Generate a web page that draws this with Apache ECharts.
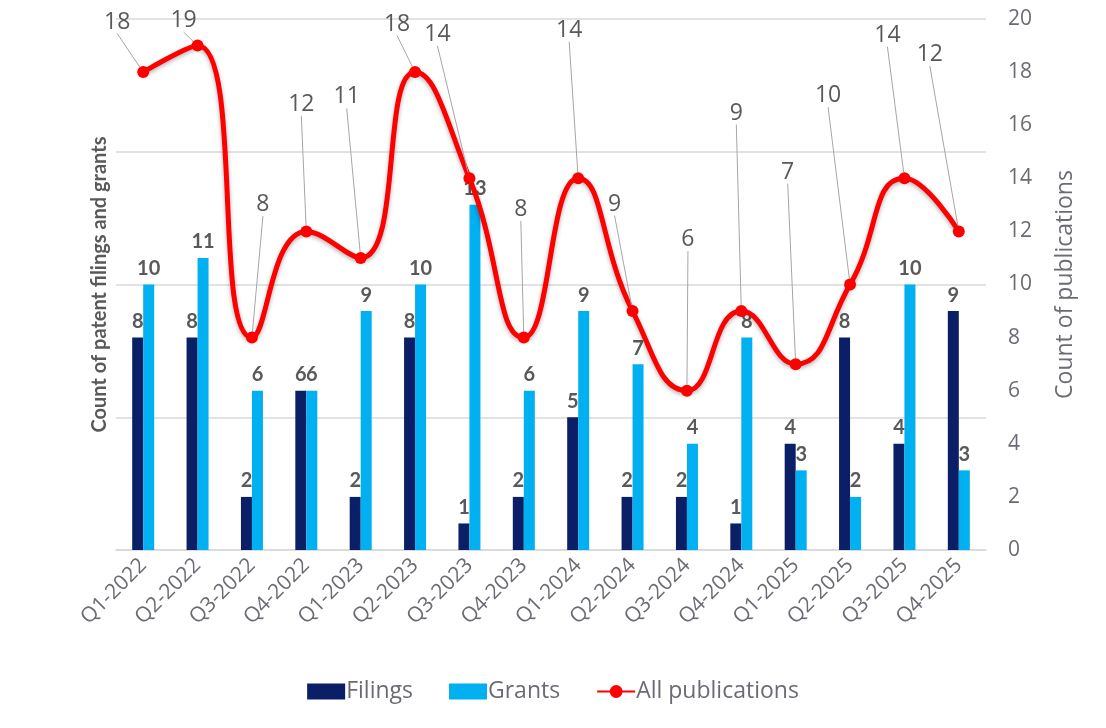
<!DOCTYPE html>
<html>
<head>
<meta charset="utf-8">
<script src="https://cdn.jsdelivr.net/npm/echarts@6/dist/echarts.min.js"></script>
<style>
  html, body { margin: 0; padding: 0; background: #fff; }
  #main { width: 1106px; height: 728px; }
</style>
</head>
<body>
<div id="main"></div>
<script>
var quarters = ['Q1-2022','Q2-2022','Q3-2022','Q4-2022','Q1-2023','Q2-2023','Q3-2023','Q4-2023',
                'Q1-2024','Q2-2024','Q3-2024','Q4-2024','Q1-2025','Q2-2025','Q3-2025','Q4-2025'];
var filings = [8, 8, 2, 6, 2, 8, 1, 2, 5, 2, 2, 1, 4, 8, 4, 9];
var grants = [10, 11, 6, 6, 9, 10, 13, 6, 9, 7, 4, 8, 3, 2, 10, 3];
var publications = [18, 19, 8, 12, 11, 18, 14, 8, 14, 9, 6, 9, 7, 10, 14, 12];
var rightTicks = [0, 20, 2];

// where the excel labels sit relative to their point (px)
var labelShift = [
  [-26, -50], [-14, -25], [11, -133], [-5, -127], [-14, -161], [-18, -48], [-32, -144], [-3, -128],
  [-9, -148], [-18, -107], [1, -151], [-5, -198], [-8, -192], [-22, -189], [-17, -143], [-29, -177]
];

var grey = '#595959';
var axisGrey = '#6b6b75';
var myChart = echarts.init(document.getElementById('main'));

var barLabel = {
  show: true,
  position: 'top',
  color: grey,
  fontFamily: 'Lato',
  fontWeight: 'bold',
  fontSize: 20,
  distance: 6
};

var option = {
  animation: false,
  grid: { left: 116, right: 120, top: 19, bottom: 178 },
  legend: {
    bottom: 20,
    left: 'center',
    itemGap: 36,
    itemWidth: 38,
    itemHeight: 16,
    textStyle: { color: axisGrey, fontSize: 23, fontFamily: 'Open Sans', padding: [0, 0, 0, -4] },
    data: [
      { name: 'Filings', icon: 'rect' },
      { name: 'Grants', icon: 'rect' },
      { name: 'All publications' }
    ]
  },
  xAxis: {
    type: 'category',
    data: quarters,
    axisTick: { show: false },
    axisLine: { lineStyle: { color: '#d9d9d9', width: 1.5 } },
    axisLabel: {
      rotate: 45,
      color: axisGrey,
      fontSize: 21,
      fontFamily: 'Open Sans',
      interval: 0,
      margin: 12
    }
  },
  yAxis: [
    {
      type: 'value',
      min: 0, max: 20, interval: 5,
      name: 'Count of patent filings and grants',
      nameLocation: 'middle',
      nameGap: 6,
      nameTextStyle: { color: grey, fontSize: 20, fontWeight: 'bold', fontFamily: 'Lato' },
      axisLabel: { show: false },
      axisLine: { show: false },
      axisTick: { show: false },
      splitLine: { lineStyle: { color: '#d9d9d9', width: 1.5 } }
    },
    {
      type: 'value',
      position: 'right',
      min: rightTicks[0], max: rightTicks[1], interval: rightTicks[2],
      name: 'Count of publications',
      nameLocation: 'middle',
      nameRotate: 90,
      nameGap: 68,
      nameTextStyle: { color: axisGrey, fontSize: 23, fontFamily: 'Open Sans' },
      axisLabel: { color: axisGrey, fontSize: 21, fontFamily: 'Open Sans', margin: 22 },
      axisLine: { show: false },
      axisTick: { show: false },
      splitLine: { show: false }
    }
  ],
  series: [
    {
      name: 'Filings',
      type: 'bar',
      data: filings,
      barWidth: 11,
      barGap: '0%',
      itemStyle: { color: '#0a1f66' },
      label: barLabel
    },
    {
      name: 'Grants',
      type: 'bar',
      data: grants,
      barWidth: 11,
      barGap: '0%',
      itemStyle: { color: '#00b0f0' },
      label: barLabel
    },
    {
      name: 'All publications',
      type: 'line',
      yAxisIndex: 1,
      data: publications,
      smooth: 0.5,
      symbol: 'circle',
      symbolSize: 12,
      z: 5,
      lineStyle: {
        color: '#ff0000', width: 5,
        shadowBlur: 4, shadowColor: 'rgba(0,0,0,0.3)', shadowOffsetY: 2
      },
      itemStyle: { color: '#ff0000' },
      label: {
        show: true,
        position: 'inside',
        color: grey,
        fontSize: 23,
        fontFamily: 'Open Sans'
      },
      labelLine: { show: true, lineStyle: { color: '#a6a6a6', width: 1 } },
      labelLayout: function (params) {
        var s = labelShift[params.dataIndex];
        return { dx: s[0], dy: s[1] };
      }
    }
  ]
};

myChart.setOption(option);
</script>
</body>
</html>
